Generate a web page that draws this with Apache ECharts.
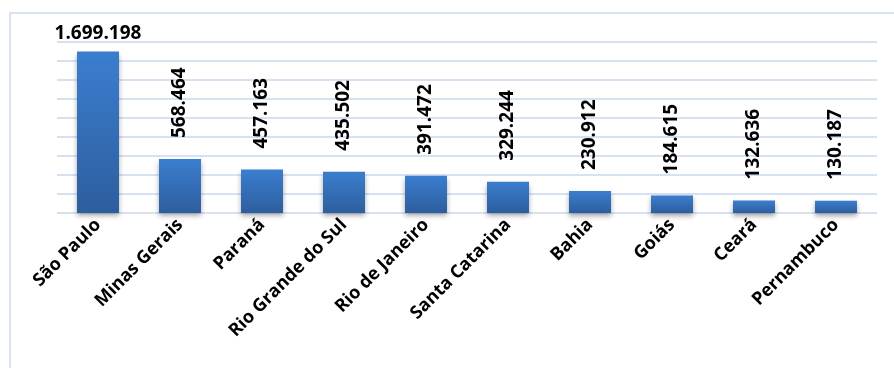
<!DOCTYPE html>
<html><head><meta charset="utf-8">
<script src="https://cdn.jsdelivr.net/npm/echarts@6/dist/echarts.min.js"></script>
<style>html,body{margin:0;padding:0;background:#fff}#c{width:894px;height:368px}</style>
</head><body><div id="c"></div>
<script>
const categories = ['São Paulo','Minas Gerais','Paraná','Rio Grande do Sul','Rio de Janeiro','Santa Catarina','Bahia','Goiás','Ceará','Pernambuco'];
const values = [1699198,568464,457163,435502,391472,329244,230912,184615,132636,130187];
const yMax = 1800000;
const yInterval = 200000;

const fmt = v => String(v).replace(/\B(?=(\d{3})+(?!\d))/g, '.');
const FONT = '"Open Sans", "Noto Sans", sans-serif';

const chart = echarts.init(document.getElementById('c'));
chart.setOption({
  animation: false,
  backgroundColor: '#fff',
  graphic: [{
    type: 'rect', shape: {x: 10, y: 13, width: 900, height: 400},
    style: {fill: 'none', stroke: '#dae4f3', lineWidth: 2}, z: -1
  }],
  grid: {left: 57, right: 17, top: 42, bottom: 155, containLabel: false},
  xAxis: {
    type: 'category', data: categories,
    axisLine: {show: false}, axisTick: {show: false},
    axisLabel: {rotate: 45, margin: 9, color: '#000', fontFamily: FONT, fontWeight: 'bold', fontSize: 18, interval: 0}
  },
  yAxis: {
    type: 'value', min: 0, max: yMax, interval: yInterval,
    axisLabel: {show: false}, axisLine: {show: false}, axisTick: {show: false},
    splitLine: {lineStyle: {color: '#d6e2f2', width: 2}}
  },
  series: [{
    type: 'bar', barWidth: 42,
    data: values.map((v, i) => ({
      value: v,
      label: i === 0
        ? {show: true, position: 'top', rotate: 0, distance: 8, formatter: fmt(v), color: '#000', fontFamily: FONT, fontWeight: 'bold', fontSize: 19}
        : {show: true, position: 'top', rotate: 90, align: 'left', verticalAlign: 'middle', distance: 21, formatter: fmt(v), color: '#000', fontFamily: FONT, fontWeight: 'bold', fontSize: 19}
    })),
    itemStyle: {
      color: new echarts.graphic.LinearGradient(0, 0, 0, 1, [
        {offset: 0, color: '#3b7ecf'}, {offset: 1, color: '#2d5e9e'}
      ]),
      shadowColor: 'rgba(0,0,0,0.35)', shadowBlur: 5, shadowOffsetY: 3
    }
  }]
});
</script></body></html>
